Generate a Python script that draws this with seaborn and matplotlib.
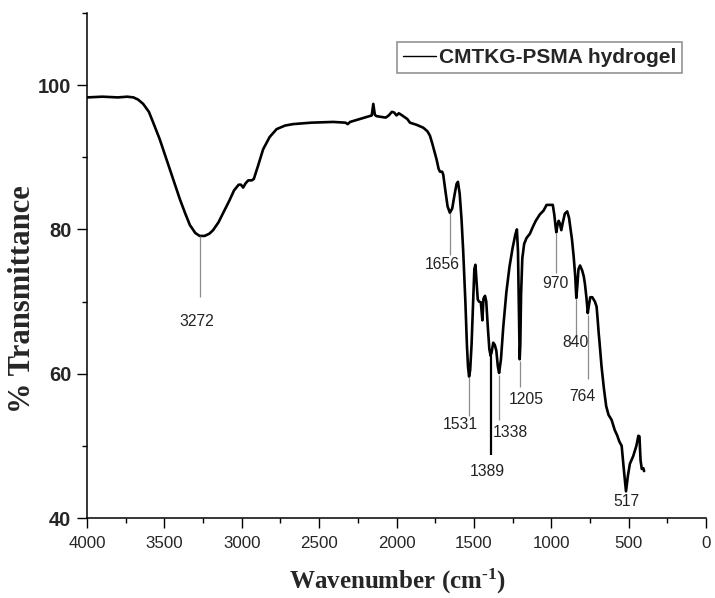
import numpy as np
import pandas as pd
import seaborn as sns
import matplotlib
matplotlib.use("Agg")
import matplotlib.pyplot as plt
from matplotlib.lines import Line2D
from matplotlib.ticker import MultipleLocator

# ---------------- data ----------------
wavenumber = [4000, 3900, 3800, 3740, 3700, 3670, 3637, 3600, 3572, 3530, 3486, 3440, 3400, 3365,
              3335, 3300, 3272, 3240, 3210, 3185, 3150, 3120, 3080, 3050, 3020, 3005, 2991, 2975,
              2958, 2935, 2922, 2895, 2862, 2820, 2775, 2720, 2668, 2550, 2409, 2330, 2315, 2300,
              2237, 2190, 2160, 2150, 2140, 2129, 2100, 2070, 2050, 2030, 2015, 2000, 1985, 1970,
              1950, 1930, 1913, 1870, 1827, 1800, 1784, 1770, 1755, 1741, 1728, 1719, 1705, 1698,
              1685, 1670, 1655, 1640, 1625, 1612, 1603, 1592, 1580, 1569, 1555, 1545, 1538, 1531,
              1524, 1515, 1505, 1497, 1490, 1482, 1475, 1467, 1455, 1445, 1438, 1428, 1420, 1410,
              1400, 1392, 1385, 1375, 1365, 1355, 1345, 1337, 1325, 1310, 1290, 1270, 1250, 1232,
              1222, 1215, 1208, 1204, 1200, 1195, 1187, 1175, 1160, 1138, 1120, 1100, 1073, 1050,
              1030, 1010, 990, 980, 972, 967, 960, 952, 944, 935, 925, 912, 897, 885, 875, 866,
              855, 845, 838, 832, 824, 814, 800, 790, 782, 772, 764, 758, 748, 735, 718, 707, 700,
              693, 689, 675, 660, 645, 630, 610, 590, 575, 560, 545, 530, 517, 505, 492, 470, 450,
              437, 430, 423, 415, 405, 400]
transmittance = [98.3, 98.4, 98.3, 98.4, 98.3, 98.0, 97.4, 96.3, 94.8, 92.5, 89.7, 86.8, 84.2, 82.2,
                 80.6, 79.5, 79.1, 79.1, 79.4, 79.9, 81.0, 82.3, 84.0, 85.4, 86.2, 86.2, 85.8, 86.4,
                 86.8, 86.8, 87.0, 88.8, 91.1, 92.8, 93.9, 94.4, 94.6, 94.8, 94.9, 94.8, 94.6, 94.9,
                 95.3, 95.6, 95.8, 97.4, 95.9, 95.7, 95.6, 95.5, 95.8, 96.3, 96.2, 95.8, 96.1, 95.9,
                 95.6, 95.3, 94.8, 94.5, 94.1, 93.6, 93.0, 92.0, 90.8, 89.7, 88.4, 88.0, 88.0, 87.6,
                 85.5, 83.2, 82.3, 82.9, 84.8, 86.3, 86.6, 85.0, 81.5, 77.0, 70.0, 64.0, 61.0, 59.6,
                 60.5, 64.0, 70.0, 74.5, 75.1, 72.5, 70.3, 70.0, 69.9, 67.4, 70.4, 70.8, 70.0, 66.5,
                 63.4, 62.5, 63.0, 64.3, 64.0, 63.2, 61.0, 60.1, 62.0, 66.5, 71.3, 74.8, 77.4, 79.3,
                 80.0, 77.0, 68.0, 62.0, 64.0, 71.0, 76.0, 78.0, 78.8, 79.4, 80.3, 81.2, 82.1, 82.6,
                 83.4, 83.4, 83.4, 82.0, 80.4, 79.6, 80.6, 81.2, 80.8, 79.9, 81.0, 82.2, 82.5, 81.6,
                 80.0, 78.6, 76.2, 73.5, 70.5, 72.0, 74.5, 75.0, 74.3, 73.5, 72.4, 70.4, 68.4, 69.3,
                 70.6, 70.6, 70.0, 69.3, 67.5, 65.5, 64.6, 61.0, 58.0, 55.5, 54.3, 53.6, 52.2, 51.5,
                 50.6, 50.0, 46.5, 43.7, 45.8, 47.5, 48.6, 50.0, 51.4, 51.3, 48.0, 46.8, 46.9, 46.5]

# peak annotations
peak_labels = ["3272", "1656", "1531", "1389", "1338", "1205", "970", "840", "764", "517"]
peak_x = [3272, 1655, 1531, 1392, 1337, 1204, 967, 838, 764, 517]
line_top = [79.1, 82.3, 59.6, 62.4, 59.8, 61.8, 79.5, 70.4, 68.2, None]
line_bottom = [70.7, 76.5, 54.1, 48.8, 53.6, 58.2, 74.0, 65.2, 59.2, None]
label_x = [3288, 1703, 1590, 1415, 1262, 1160, 972, 843, 797, 513]
label_y = [67.3, 75.2, 52.9, 46.4, 51.8, 56.4, 72.5, 64.3, 56.8, 42.3]

x_ticks = [4000, 3500, 3000, 2500, 2000, 1500, 1000, 500, 0]
y_ticks = [40, 60, 80, 100]

df = pd.DataFrame({"Wavenumber": wavenumber, "T": transmittance})

# ---------------- style ----------------
sns.set_style("ticks")
plt.rcParams["font.family"] = ["Liberation Sans", "DejaVu Sans"]
plt.rcParams["mathtext.fontset"] = "custom"
plt.rcParams["mathtext.rm"] = "Liberation Serif:bold"
plt.rcParams["mathtext.bf"] = "Liberation Serif:bold"
plt.rcParams["mathtext.it"] = "Liberation Serif:bold"
plt.rcParams["mathtext.default"] = "regular"

fig = plt.figure(figsize=(7.15, 5.98), dpi=100)
ax = fig.add_axes([87 / 715, 1 - 518 / 598, (706 - 87) / 715, (518 - 13) / 598])

sns.lineplot(data=df, x="Wavenumber", y="T", sort=False, estimator=None,
             color="black", linewidth=1.9, ax=ax)

# annotations
for lab, px, top, bot, lx, ly in zip(peak_labels, peak_x, line_top, line_bottom, label_x, label_y):
    if top is not None:
        if lab == "1389":
            ax.plot([px, px], [top, bot], color="black", lw=1.6, solid_capstyle="butt")
        else:
            ax.plot([px, px], [top, bot], color="#8c8c8c", lw=0.9, solid_capstyle="butt")
    ax.text(lx, ly, lab, ha="center", va="center", fontsize=11.3, color="#222222",
            family=["Liberation Sans", "DejaVu Sans"])

ax.set_xlim(4000, 0)
ax.set_ylim(40, 110)
ax.set_xticks(x_ticks)
ax.set_xticklabels([str(v) for v in x_ticks])
ax.xaxis.set_minor_locator(MultipleLocator(250))
ax.set_yticks(y_ticks)
ax.set_yticklabels([str(v) for v in y_ticks])
ax.yaxis.set_minor_locator(MultipleLocator(10))

ax.tick_params(axis="both", which="major", direction="out", length=7.2, width=1.0, color="black")
ax.tick_params(axis="both", which="minor", direction="out", length=3.8, width=1.0, color="black")
ax.tick_params(axis="x", which="major", labelsize=12.2, pad=6)
ax.tick_params(axis="y", which="major", labelsize=14.5, pad=4)
for t in ax.get_yticklabels():
    t.set_fontweight("bold")

sns.despine(ax=ax)
for s in ["left", "bottom"]:
    ax.spines[s].set_linewidth(1.1)
    ax.spines[s].set_color("black")

ax.set_xlabel("")
ax.set_ylabel("")
fig.text(397.5 / 715, 1 - 589 / 598, "Wavenumber (cm$^{\u2010 1}$)", ha="center", va="baseline",
         fontsize=18, fontweight="bold", family="Liberation Serif")
fig.text(23 / 715, 1 - 299 / 598, "% Transmittance", ha="center", va="center", rotation=90,
         fontsize=22, fontweight="bold", family="Liberation Serif")

handle = Line2D([], [], color="black", lw=1.0)
leg = ax.legend([handle], ["CMTKG-PSMA hydrogel"], loc="upper left",
                bbox_to_anchor=((397 - 87) / 619, (518 - 41.7) / 505), borderaxespad=0,
                frameon=True, fancybox=False, framealpha=1, edgecolor="#8a8a8a",
                prop={"family": "Liberation Sans", "weight": "bold", "size": 15},
                handlelength=1.55, handletextpad=0.15, borderpad=0.3)
leg.get_frame().set_linewidth(1.1)

fig.savefig("out.png", dpi=100, facecolor="white")
